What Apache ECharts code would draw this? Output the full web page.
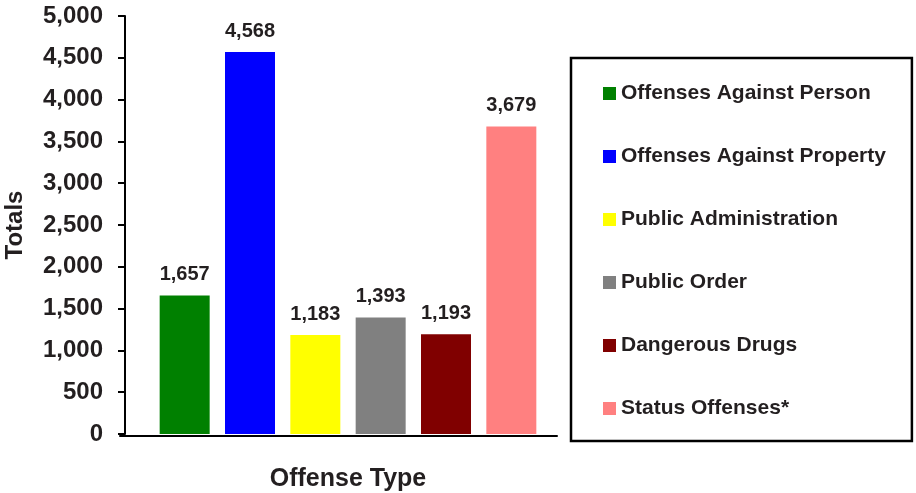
<!DOCTYPE html>
<html>
<head>
<meta charset="utf-8">
<script src="https://cdn.jsdelivr.net/npm/echarts@6/dist/echarts.min.js"></script>
<style>
	html, body { margin: 0; padding: 0; background: #fff; }
	#main { width: 916px; height: 493px; }
</style>
</head>
<body>
<div id="main"></div>
<script>
var categories = ['Offenses Against Person', 'Offenses Against Property', 'Public Administration',
	'Public Order', 'Dangerous Drugs', 'Status Offenses*'];
var totals = [1657, 4568, 1183, 1393, 1193, 3679];
var colors = ['#008000', '#0000ff', '#ffff00', '#808080', '#800000', '#ff8080'];

var textColor = '#231f20';
var fontFam = '"Liberation Sans", Arial, sans-serif';

function fmt(v) {
	return Number(v).toLocaleString('en-US');
}

// one series per category so the legend shows each one
function buildSeries() {
	return categories.map(function(name, i) {
		return {
			name: name,
			type: 'bar',
			stack: 'all',
			barWidth: 50,
			itemStyle: { color: colors[i] },
			label: {
				show: true,
				position: 'top',
				distance: 11,
				color: textColor,
				fontFamily: fontFam,
				fontWeight: 'bold',
				fontSize: 20,
				formatter: function(p) { return fmt(p.value); }
			},
			data: totals.map(function(v, j) { return j === i ? v : '-'; })
		};
	});
}

var chart = echarts.init(document.getElementById('main'));
chart.setOption({
	animation: false,
	grid: [
		{ left: 152, right: 372, top: 16, bottom: 59, outerBoundsMode: 'none' },
		{ left: 120, right: 359, top: 16, bottom: 57, outerBoundsMode: 'none' } // only for the long x axis line
	],
	legend: {
		orient: 'vertical',
		left: 571,
		top: 58,
		padding: [25, 26, 22, 32],
		borderColor: '#000',
		borderWidth: 2.5,
		itemGap: 42,
		itemWidth: 13,
		itemHeight: 13,
		icon: 'rect',
		data: categories,
		textStyle: {
			color: textColor,
			fontFamily: fontFam,
			fontWeight: 'bold',
			fontSize: 21,
			lineHeight: 20
		}
	},
	xAxis: [{
		type: 'category',
		gridIndex: 0,
		data: categories,
		axisLine: { show: false },
		axisTick: { show: false },
		axisLabel: { show: false },
		name: 'Offense Type',
		nameLocation: 'middle',
		nameGap: 33,
		nameTextStyle: {
			color: textColor,
			fontFamily: fontFam,
			fontWeight: 'bold',
			fontSize: 25
		}
	}, {
		type: 'value',
		gridIndex: 1,
		min: 0,
		max: 1,
		axisLine: { show: true, lineStyle: { color: '#000', width: 2 } },
		axisTick: { show: false },
		axisLabel: { show: false },
		splitLine: { show: false }
	}],
	yAxis: [{
		type: 'value',
		gridIndex: 0,
		min: 0,
		max: 5000,
		interval: 500,
		offset: 27,
		axisLine: { show: true, lineStyle: { color: '#000', width: 2 } },
		axisTick: { show: true, length: 7, lineStyle: { color: '#000', width: 2 } },
		splitLine: { show: false },
		axisLabel: {
			margin: 22,
			color: textColor,
			fontFamily: fontFam,
			fontWeight: 'bold',
			fontSize: 24,
			formatter: fmt
		},
		name: 'Totals',
		nameLocation: 'middle',
		nameGap: 98,
		nameTextStyle: {
			color: textColor,
			fontFamily: fontFam,
			fontWeight: 'bold',
			fontSize: 24
		}
	}, {
		type: 'value',
		gridIndex: 1,
		show: false
	}],
	series: buildSeries()
});
</script>
</body>
</html>
